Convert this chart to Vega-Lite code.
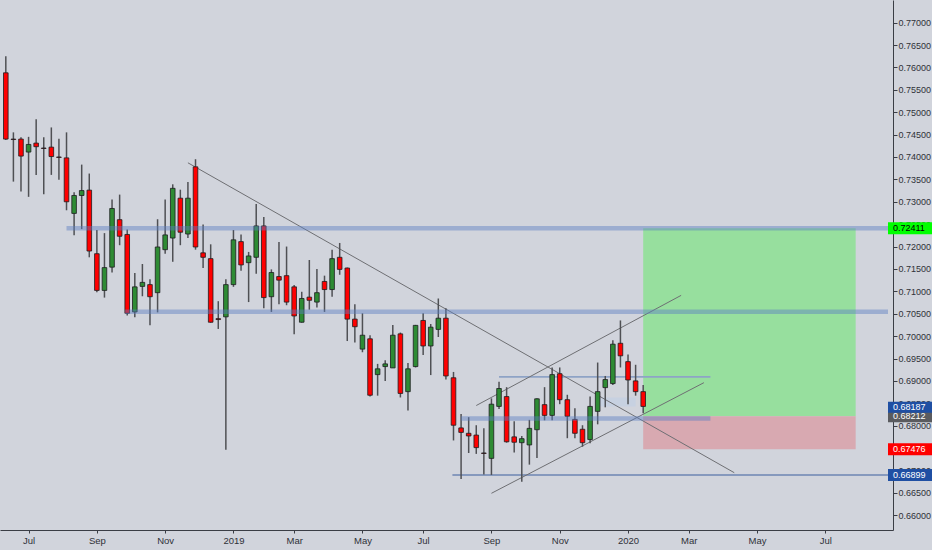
{
  "$schema": "https://vega.github.io/schema/vega-lite/v6.json",
  "width": 893,
  "height": 530,
  "autosize": {"type": "none"},
  "padding": {"left": 0, "top": 0, "right": 39, "bottom": 20},
  "background": "#d1d4dc",
  "config": {
    "view": {"stroke": null},
    "font": "Liberation Sans",
    "axis": {"labelOverlap": false, "labelBound": false, "labelSeparation": 0},
    "axisY": {"labelOverlap": false}
  },
  "datasets": {
    "candles": [
      {"d":"2018-06-11","o":0.7588,"h":0.7625,"l":0.7438,"c":0.7440},
      {"d":"2018-06-18","o":0.7440,"h":0.7455,"l":0.7345,"c":0.7439},
      {"d":"2018-06-25","o":0.7440,"h":0.7444,"l":0.7323,"c":0.7402},
      {"d":"2018-07-02","o":0.7411,"h":0.7445,"l":0.7311,"c":0.7428},
      {"d":"2018-07-09","o":0.7431,"h":0.7484,"l":0.7360,"c":0.7423},
      {"d":"2018-07-16","o":0.7420,"h":0.7444,"l":0.7317,"c":0.7419},
      {"d":"2018-07-23","o":0.7422,"h":0.7466,"l":0.7360,"c":0.7401},
      {"d":"2018-07-30","o":0.7400,"h":0.7441,"l":0.7349,"c":0.7399},
      {"d":"2018-08-06","o":0.7398,"h":0.7455,"l":0.7281,"c":0.7300},
      {"d":"2018-08-13","o":0.7274,"h":0.7321,"l":0.7225,"c":0.7314},
      {"d":"2018-08-20","o":0.7314,"h":0.7383,"l":0.7239,"c":0.7325},
      {"d":"2018-08-27","o":0.7326,"h":0.7363,"l":0.7176,"c":0.7190},
      {"d":"2018-09-03","o":0.7184,"h":0.7237,"l":0.7098,"c":0.7102},
      {"d":"2018-09-10","o":0.7102,"h":0.7230,"l":0.7086,"c":0.7153},
      {"d":"2018-09-17","o":0.7154,"h":0.7305,"l":0.7142,"c":0.7285},
      {"d":"2018-09-24","o":0.7260,"h":0.7316,"l":0.7203,"c":0.7223},
      {"d":"2018-10-01","o":0.7227,"h":0.7238,"l":0.7046,"c":0.7051},
      {"d":"2018-10-08","o":0.7054,"h":0.7141,"l":0.7042,"c":0.7110},
      {"d":"2018-10-15","o":0.7111,"h":0.7161,"l":0.7089,"c":0.7120},
      {"d":"2018-10-22","o":0.7115,"h":0.7127,"l":0.7024,"c":0.7088},
      {"d":"2018-10-29","o":0.7097,"h":0.7261,"l":0.7053,"c":0.7199},
      {"d":"2018-11-05","o":0.7193,"h":0.7305,"l":0.7184,"c":0.7226},
      {"d":"2018-11-12","o":0.7219,"h":0.7339,"l":0.7166,"c":0.7330},
      {"d":"2018-11-19","o":0.7308,"h":0.7327,"l":0.7203,"c":0.7232},
      {"d":"2018-11-26","o":0.7228,"h":0.7344,"l":0.7219,"c":0.7308},
      {"d":"2018-12-03","o":0.7378,"h":0.7395,"l":0.7193,"c":0.7199},
      {"d":"2018-12-10","o":0.7186,"h":0.7249,"l":0.7152,"c":0.7176},
      {"d":"2018-12-17","o":0.7173,"h":0.7205,"l":0.7030,"c":0.7031},
      {"d":"2018-12-24","o":0.7039,"h":0.7078,"l":0.7016,"c":0.7037},
      {"d":"2018-12-31","o":0.7043,"h":0.7127,"l":0.6746,"c":0.7115},
      {"d":"2019-01-07","o":0.7115,"h":0.7237,"l":0.7110,"c":0.7215},
      {"d":"2019-01-14","o":0.7211,"h":0.7227,"l":0.7146,"c":0.7159},
      {"d":"2019-01-21","o":0.7164,"h":0.7188,"l":0.7076,"c":0.7179},
      {"d":"2019-01-28","o":0.7176,"h":0.7295,"l":0.7139,"c":0.7246},
      {"d":"2019-02-04","o":0.7246,"h":0.7266,"l":0.7062,"c":0.7086},
      {"d":"2019-02-11","o":0.7088,"h":0.7149,"l":0.7054,"c":0.7142},
      {"d":"2019-02-18","o":0.7133,"h":0.7210,"l":0.7071,"c":0.7125},
      {"d":"2019-02-25","o":0.7135,"h":0.7200,"l":0.7069,"c":0.7076},
      {"d":"2019-03-04","o":0.7110,"h":0.7114,"l":0.7004,"c":0.7045},
      {"d":"2019-03-11","o":0.7031,"h":0.7099,"l":0.7030,"c":0.7084},
      {"d":"2019-03-18","o":0.7087,"h":0.7170,"l":0.7059,"c":0.7080},
      {"d":"2019-03-25","o":0.7076,"h":0.7150,"l":0.7064,"c":0.7097},
      {"d":"2019-04-01","o":0.7122,"h":0.7135,"l":0.7054,"c":0.7104},
      {"d":"2019-04-08","o":0.7104,"h":0.7193,"l":0.7088,"c":0.7173},
      {"d":"2019-04-15","o":0.7176,"h":0.7208,"l":0.7137,"c":0.7149},
      {"d":"2019-04-22","o":0.7152,"h":0.7153,"l":0.6989,"c":0.7038},
      {"d":"2019-04-29","o":0.7038,"h":0.7071,"l":0.6986,"c":0.7021},
      {"d":"2019-05-06","o":0.6971,"h":0.7051,"l":0.6964,"c":0.7002},
      {"d":"2019-05-13","o":0.6994,"h":0.7002,"l":0.6865,"c":0.6868},
      {"d":"2019-05-20","o":0.6914,"h":0.6938,"l":0.6867,"c":0.6927},
      {"d":"2019-05-27","o":0.6932,"h":0.6946,"l":0.6900,"c":0.6938},
      {"d":"2019-06-03","o":0.6929,"h":0.7025,"l":0.6929,"c":0.7002},
      {"d":"2019-06-10","o":0.7005,"h":0.7008,"l":0.6863,"c":0.6872},
      {"d":"2019-06-17","o":0.6876,"h":0.6940,"l":0.6834,"c":0.6927},
      {"d":"2019-06-24","o":0.6932,"h":0.7025,"l":0.6930,"c":0.7024},
      {"d":"2019-07-01","o":0.7035,"h":0.7051,"l":0.6958,"c":0.6978},
      {"d":"2019-07-08","o":0.6978,"h":0.7027,"l":0.6913,"c":0.7020},
      {"d":"2019-07-15","o":0.7015,"h":0.7084,"l":0.6998,"c":0.7040},
      {"d":"2019-07-22","o":0.7040,"h":0.7062,"l":0.6903,"c":0.6911},
      {"d":"2019-07-29","o":0.6907,"h":0.6920,"l":0.6767,"c":0.6801},
      {"d":"2019-08-05","o":0.6795,"h":0.6826,"l":0.6681,"c":0.6785},
      {"d":"2019-08-12","o":0.6783,"h":0.6819,"l":0.6739,"c":0.6777},
      {"d":"2019-08-19","o":0.6779,"h":0.6801,"l":0.6737,"c":0.6751},
      {"d":"2019-08-26","o":0.6739,"h":0.6794,"l":0.6691,"c":0.6738},
      {"d":"2019-09-02","o":0.6727,"h":0.6861,"l":0.6690,"c":0.6848},
      {"d":"2019-09-09","o":0.6843,"h":0.6898,"l":0.6837,"c":0.6883},
      {"d":"2019-09-16","o":0.6865,"h":0.6886,"l":0.6762,"c":0.6764},
      {"d":"2019-09-23","o":0.6775,"h":0.6810,"l":0.6740,"c":0.6763},
      {"d":"2019-09-30","o":0.6762,"h":0.6777,"l":0.6675,"c":0.6771},
      {"d":"2019-10-07","o":0.6757,"h":0.6813,"l":0.6713,"c":0.6794},
      {"d":"2019-10-14","o":0.6791,"h":0.6861,"l":0.6728,"c":0.6860},
      {"d":"2019-10-21","o":0.6847,"h":0.6886,"l":0.6812,"c":0.6823},
      {"d":"2019-10-28","o":0.6823,"h":0.6930,"l":0.6812,"c":0.6914},
      {"d":"2019-11-04","o":0.6916,"h":0.6930,"l":0.6848,"c":0.6858},
      {"d":"2019-11-11","o":0.6858,"h":0.6869,"l":0.6772,"c":0.6821},
      {"d":"2019-11-18","o":0.6814,"h":0.6839,"l":0.6772,"c":0.6783},
      {"d":"2019-11-25","o":0.6792,"h":0.6801,"l":0.6753,"c":0.6762},
      {"d":"2019-12-02","o":0.6769,"h":0.6865,"l":0.6761,"c":0.6843},
      {"d":"2019-12-09","o":0.6832,"h":0.6941,"l":0.6803,"c":0.6876},
      {"d":"2019-12-16","o":0.6885,"h":0.6911,"l":0.6841,"c":0.6903},
      {"d":"2019-12-23","o":0.6894,"h":0.6991,"l":0.6891,"c":0.6982},
      {"d":"2019-12-30","o":0.6984,"h":0.7035,"l":0.6930,"c":0.6956},
      {"d":"2020-01-06","o":0.6943,"h":0.6959,"l":0.6848,"c":0.6902},
      {"d":"2020-01-13","o":0.6900,"h":0.6936,"l":0.6867,"c":0.6876},
      {"d":"2020-01-20","o":0.6876,"h":0.6891,"l":0.6828,"c":0.6843}
    ],
    "zones": [
      {"zone":"target","t1":"2020-01-20","t2":"2020-08-03","p1":0.68212,"p2":0.72411},
      {"zone":"stop","t1":"2020-01-20","t2":"2020-08-03","p1":0.67476,"p2":0.68212}
    ],
    "shade": [
      {"t1":"2019-12-10","t2":"2020-01-13","p1":0.6843,"p2":0.6863}
    ],
    "bands": [
      {"name":"upper","t1":"2018-08-06","t2":"2020-09-01T20:00:00Z","p":0.72411},
      {"name":"middle","t1":"2018-09-29","t2":"2020-09-01T20:00:00Z","p":0.70545},
      {"name":"lower","t1":"2019-08-05","t2":"2020-03-22","p":0.68160}
    ],
    "hlines": [
      {"name":"range","t1":"2019-09-09","t2":"2020-03-22","p":0.6909},
      {"name":"low","t1":"2019-07-28","t2":"2020-09-01T20:00:00Z","p":0.66899}
    ],
    "trend": [
      {"name":"down","t1":"2018-11-26","p1":0.7387,"t2":"2020-04-13","p2":0.6695},
      {"name":"chanTop","t1":"2019-08-19","p1":0.6845,"t2":"2020-02-24","p2":0.7091},
      {"name":"chanBottom","t1":"2019-09-02","p1":0.6649,"t2":"2020-03-16","p2":0.6896}
    ],
    "tags": [
      {"kind":"target","price":0.72411},
      {"kind":"entry","price":0.68212},
      {"kind":"stop","price":0.67476},
      {"kind":"low","price":0.66899}
    ],
    "tagsShifted": [
      {"kind":"level","price":0.68187}
    ]
  },
  "layer": [
    {
      "data": {"name": "zones"},
      "mark": {"type": "rect"},
      "encoding": {
        "x": {"field": "t1", "type": "temporal", "title": null,
          "scale": {"type": "utc", "domain": [{"year":2018,"month":6,"date":10,"hours":6,"utc":true},{"year":2020,"month":9,"date":1,"hours":20,"utc":true}]},
          "axis": {"orient": "bottom", "grid": false, "title": null,
            "values": [
              {"year":2018,"month":7,"date":2,"utc":true},
              {"year":2018,"month":9,"date":3,"utc":true},
              {"year":2018,"month":11,"date":5,"utc":true},
              {"year":2019,"month":1,"date":7,"utc":true},
              {"year":2019,"month":3,"date":4,"utc":true},
              {"year":2019,"month":5,"date":6,"utc":true},
              {"year":2019,"month":7,"date":1,"utc":true},
              {"year":2019,"month":9,"date":2,"utc":true},
              {"year":2019,"month":11,"date":4,"utc":true},
              {"year":2020,"month":1,"date":6,"utc":true},
              {"year":2020,"month":3,"date":2,"utc":true},
              {"year":2020,"month":5,"date":4,"utc":true},
              {"year":2020,"month":7,"date":6,"utc":true}
            ],
            "labelExpr": "utcFormat(datum.value, '%m') == '01' ? utcFormat(datum.value, '%Y') : utcFormat(datum.value, '%b')",
            "tickSize": 3, "tickColor": "#3a3d45", "domainColor": "#3a3d45", "domainWidth": 1,
            "labelColor": "#2f3138", "labelFontSize": 9.5, "labelPadding": 2, "labelFlush": false, "labelOverlap": false}},
        "x2": {"field": "t2"},
        "y": {"field": "p1", "type": "quantitative", "title": null,
          "scale": {"domain": [0.65782, 0.77394], "nice": false, "zero": false},
          "axis": {"orient": "right", "grid": false, "title": null,
            "values": [0.66,0.665,0.67,0.675,0.68,0.685,0.69,0.695,0.70,0.705,0.71,0.715,0.72,0.725,0.73,0.735,0.74,0.745,0.75,0.755,0.76,0.765,0.77],
            "tickCount": 23,
            "format": ".5f", "tickSize": 4, "tickColor": "#3a3d45", "domainColor": "#3a3d45", "domainWidth": 1,
            "labelColor": "#2f3138", "labelFontSize": 9, "labelPadding": 1, "labelOverlap": false, "labelFlush": false}},
        "y2": {"field": "p2"},
        "color": {"condition": {"test": "datum.zone == 'target'", "value": "#97df9e"}, "value": "#d8a9b1"}
      }
    },
    {
      "data": {"name": "shade"},
      "mark": {"type": "rect", "color": "#c4d0e2", "opacity": 0.8},
      "encoding": {
        "x": {"field": "t1", "type": "temporal", "title": null},
        "x2": {"field": "t2"},
        "y": {"field": "p1", "type": "quantitative", "title": null},
        "y2": {"field": "p2"}
      }
    },
    {
      "data": {"name": "hlines"},
      "mark": {"type": "rule"},
      "encoding": {
        "x": {"field": "t1", "type": "temporal", "title": null},
        "x2": {"field": "t2"},
        "y": {"field": "p", "type": "quantitative", "title": null},
        "color": {"condition": {"test": "datum.name == 'low'", "value": "#3d5e9e"}, "value": "#8ea3c6"},
        "strokeWidth": {"condition": {"test": "datum.name == 'low'", "value": 1.2}, "value": 1.6}
      }
    },
    {
      "data": {"name": "trend"},
      "mark": {"type": "rule", "color": "#6e6f73", "strokeWidth": 1},
      "encoding": {
        "x": {"field": "t1", "type": "temporal", "title": null},
        "x2": {"field": "t2"},
        "y": {"field": "p1", "type": "quantitative", "title": null},
        "y2": {"field": "p2"}
      }
    },
    {
      "data": {"name": "candles"},
      "mark": {"type": "rule", "color": "#4f5054", "strokeWidth": 1.5, "clip": true},
      "encoding": {
        "x": {"field": "d", "type": "temporal", "title": null},
        "y": {"field": "l", "type": "quantitative", "title": null},
        "y2": {"field": "h"}
      }
    },
    {
      "data": {"name": "candles"},
      "mark": {"type": "bar", "size": 4.6, "stroke": "#1d1d1f", "strokeWidth": 0.8, "clip": true},
      "encoding": {
        "x": {"field": "d", "type": "temporal", "title": null},
        "y": {"field": "o", "type": "quantitative", "title": null},
        "y2": {"field": "c"},
        "color": {"condition": {"test": "datum.c > datum.o", "value": "#2e8b34"}, "value": "#ff0000"}
      }
    },
    {
      "data": {"name": "bands"},
      "mark": {"type": "rule", "color": "#5b7fc0", "opacity": 0.45, "strokeWidth": 4.5},
      "encoding": {
        "x": {"field": "t1", "type": "temporal", "title": null},
        "x2": {"field": "t2"},
        "y": {"field": "p", "type": "quantitative", "title": null}
      }
    },
    {
      "data": {"name": "tags"},
      "mark": {"type": "bar", "orient": "horizontal", "size": 12},
      "encoding": {
        "x": {"datum": {"year":2020,"month":9,"date":1,"hours":20,"utc":true}, "type": "temporal"},
        "x2": {"datum": {"year":2020,"month":10,"date":20,"utc":true}},
        "y": {"field": "price", "type": "quantitative", "title": null},
        "color": {"condition": [
          {"test": "datum.kind == 'target'", "value": "#00ff00"},
          {"test": "datum.kind == 'entry'", "value": "#5a5b5f"},
          {"test": "datum.kind == 'stop'", "value": "#ff0000"}
        ], "value": "#1f4fa3"}
      }
    },
    {
      "data": {"name": "tags"},
      "mark": {"type": "text", "align": "left", "baseline": "middle", "dx": 5, "fontSize": 9},
      "encoding": {
        "x": {"datum": {"year":2020,"month":9,"date":1,"hours":20,"utc":true}, "type": "temporal"},
        "y": {"field": "price", "type": "quantitative", "title": null},
        "text": {"field": "price", "type": "quantitative", "format": ".5f"},
        "color": {"condition": {"test": "datum.kind == 'target'", "value": "#000000"}, "value": "#ffffff"}
      }
    },
    {
      "data": {"name": "tagsShifted"},
      "mark": {"type": "bar", "orient": "horizontal", "size": 11, "yOffset": -10, "color": "#1f4fa3"},
      "encoding": {
        "x": {"datum": {"year":2020,"month":9,"date":1,"hours":20,"utc":true}, "type": "temporal"},
        "x2": {"datum": {"year":2020,"month":10,"date":20,"utc":true}},
        "y": {"field": "price", "type": "quantitative", "title": null}
      }
    },
    {
      "data": {"name": "tagsShifted"},
      "mark": {"type": "text", "align": "left", "baseline": "middle", "dx": 5, "yOffset": -10, "fontSize": 9, "color": "#ffffff"},
      "encoding": {
        "x": {"datum": {"year":2020,"month":9,"date":1,"hours":20,"utc":true}, "type": "temporal"},
        "y": {"field": "price", "type": "quantitative", "title": null},
        "text": {"field": "price", "type": "quantitative", "format": ".5f"}
      }
    }
  ]
}
